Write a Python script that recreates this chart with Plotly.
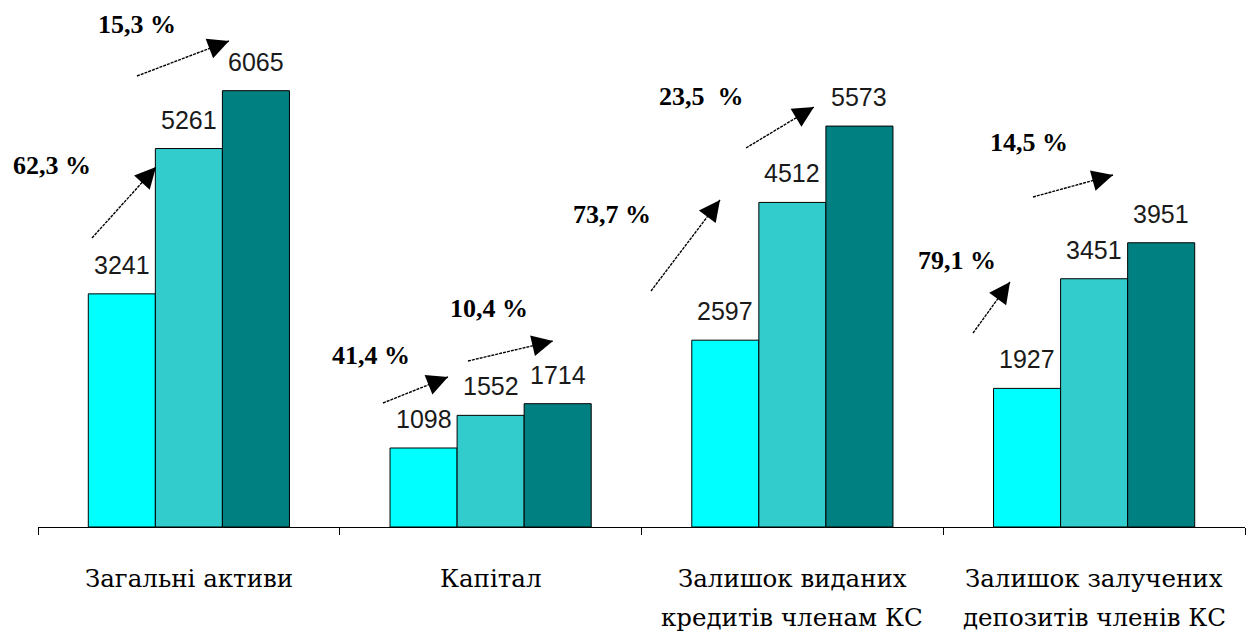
import plotly.graph_objects as go

# ---------------- data ----------------
categories = [
    "Загальні активи",
    "Капітал",
    "Залишок виданих<br>кредитів членам КС",
    "Залишок залучених<br>депозитів членів КС",
]
series_names = ["Період 1", "Період 2", "Період 3"]
values_p1 = [3241, 1098, 2597, 1927]
values_p2 = [5261, 1552, 4512, 3451]
values_p3 = [6065, 1714, 5573, 3951]
growth_first = ["62,3 %", "41,4 %", "73,7 %", "79,1 %"]
growth_second = ["15,3 %", "10,4 %", "23,5  %", "14,5 %"]

colors = ["#00FFFF", "#33CCCC", "#008080"]

SERIF = "Liberation Serif"
CAT_SERIF = "DejaVu Serif"
SANS = "Liberation Sans"

# ---------------- layout geometry (pixels) ----------------
# page body has an 8px default margin -> figure is drawn 8px right / down
OFF = 8
W, H = 1256 - OFF, 632 - OFF
L_PX, R_PX, T_PX, B_PX = 38 - OFF, 1245 - OFF, 10 - OFF, 527 - OFF
PX_PER_UNIT = 436.3 / 6065.0
Y_MAX = (B_PX - T_PX) / PX_PER_UNIT
BAR_PX = (R_PX - L_PX) / len(categories) * (2.0 / 3.0) / 3.0
CAT_LINE_SHIFTS = [-51, -90]   # pixel offsets of label lines below the axis


def px2paper(x, y):
    # x, y given in page pixels
    x, y = x - OFF, y - OFF
    return (x - L_PX) / (R_PX - L_PX), (B_PX - y) / (B_PX - T_PX)


# arrows (tail -> head) and growth label centres, page pixels
arrows_first = [((92, 238), (156, 167)), ((383, 403), (448, 377)),
                ((651, 291), (720, 200)), ((973, 333), (1010, 282))]
arrows_second = [((137, 76), (229, 41)), ((468, 361), (553, 341)),
                 ((746, 148), (814, 107)), ((1033, 197), (1113, 175))]
labels_first_pos = [(52, 166), (371, 355), (612, 214), (957, 260)]
labels_second_pos = [(137, 25), (489, 308), (701, 97), (1029, 143)]

fig = go.Figure()
all_values = [values_p1, values_p2, values_p3]
for name, vals, col in zip(series_names, all_values, colors):
    fig.add_trace(go.Bar(
        x=categories, y=vals, name=name,
        marker=dict(color=col, line=dict(color="#000000", width=1)),
        hoverinfo="y",
    ))

annotations = []
shapes = []
# value labels
for si, vals in enumerate(all_values):
    for cat, v in zip(categories, vals):
        annotations.append(dict(
            x=cat, y=v, xref="x", yref="y", text=str(v), showarrow=False,
            xshift=(si - 1) * BAR_PX, yshift=13, yanchor="bottom",
            font=dict(family=SANS, size=25, color="#1a1a1a"),
        ))

# category labels (serif, under the axis), one annotation per text line
for cat in categories:
    for li, line in enumerate(cat.split("<br>")):
        annotations.append(dict(
            x=cat, y=0, xref="x", yref="y", text=line, showarrow=False,
            xanchor="center", yanchor="middle", yshift=CAT_LINE_SHIFTS[li],
            font=dict(family=CAT_SERIF, size=24.5, color="#000000"),
        ))

# growth arrows and labels
for arrows, labels, pos in [(arrows_first, growth_first, labels_first_pos),
                            (arrows_second, growth_second, labels_second_pos)]:
    for (tail, head), txt, (lx, ly) in zip(arrows, labels, pos):
        tx, ty = px2paper(*tail)
        hx, hy = px2paper(*head)
        shapes.append(dict(type="line", xref="paper", yref="paper",
                           x0=tx, y0=ty, x1=hx, y1=hy,
                           line=dict(color="#000000", width=1.4, dash="3px,1px")))
        dx, dy = tail[0] - head[0], tail[1] - head[1]
        d = (dx * dx + dy * dy) ** 0.5
        annotations.append(dict(
            x=hx, y=hy, xref="paper", yref="paper", text="",
            showarrow=True, arrowhead=2, arrowsize=4.2, arrowwidth=1,
            arrowcolor="#000000", ax=dx / d * 22, ay=dy / d * 22,
        ))
        px_, py_ = px2paper(lx, ly)
        annotations.append(dict(
            x=px_, y=py_, xref="paper", yref="paper", text="<b>%s</b>" % txt,
            showarrow=False, xanchor="center", yanchor="middle",
            font=dict(family=SERIF, size=26, color="#000000"),
        ))

fig.update_layout(
    width=W, height=H,
    margin=dict(l=L_PX, r=W - R_PX, t=T_PX, b=H - B_PX, pad=0, autoexpand=False),
    paper_bgcolor="#FFFFFF", plot_bgcolor="#FFFFFF",
    barmode="group", bargap=1.0 / 3.0, bargroupgap=0,
    showlegend=False,
    annotations=annotations, shapes=shapes,
    xaxis=dict(
        automargin=False,
        showline=True, linecolor="#000000", linewidth=1,
        ticks="outside", tickson="boundaries", ticklen=7, tickcolor="#000000",
        showticklabels=False, showgrid=False, zeroline=False,
    ),
    yaxis=dict(automargin=False, range=[0, Y_MAX], visible=False,
               showgrid=False, zeroline=False),
)

fig.write_html("out.html")
